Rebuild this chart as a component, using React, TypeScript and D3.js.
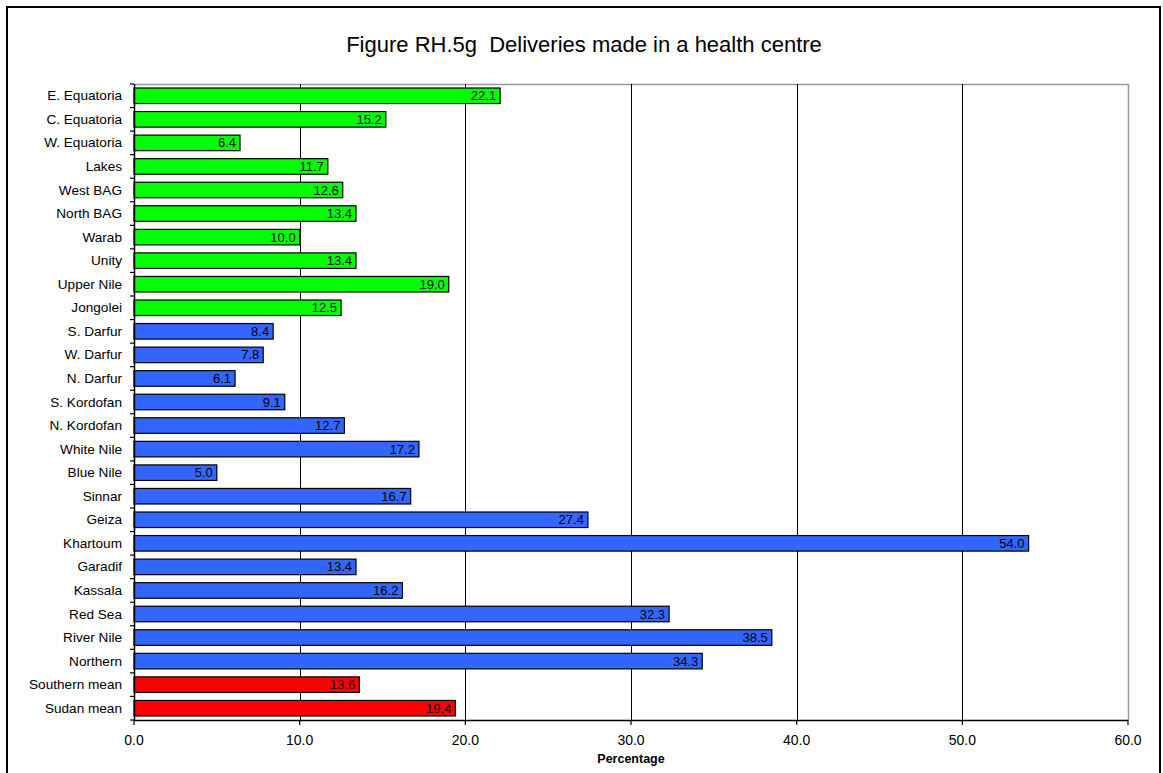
import React from "react";
import * as d3 from "d3";

const categories = [
  "E. Equatoria", "C. Equatoria", "W. Equatoria", "Lakes", "West BAG", "North BAG", "Warab", "Unity",
  "Upper Nile", "Jongolei", "S. Darfur", "W. Darfur", "N. Darfur", "S. Kordofan", "N. Kordofan",
  "White Nile", "Blue Nile", "Sinnar", "Geiza", "Khartoum", "Garadif", "Kassala", "Red Sea",
  "River Nile", "Northern", "Southern mean", "Sudan mean",
];
const values = [
  22.1, 15.2, 6.4, 11.7, 12.6, 13.4, 10.0, 13.4, 19.0, 12.5, 8.4, 7.8, 6.1, 9.1, 12.7,
  17.2, 5.0, 16.7, 27.4, 54.0, 13.4, 16.2, 32.3, 38.5, 34.3, 13.6, 19.4,
];
const groups = [
  "south", "south", "south", "south", "south", "south", "south", "south", "south", "south",
  "north", "north", "north", "north", "north", "north", "north", "north", "north", "north",
  "north", "north", "north", "north", "north", "mean", "mean",
];
const xTicks = [0, 10, 20, 30, 40, 50, 60];
const title = "Figure RH.5g  Deliveries made in a health centre";
const xLabel = "Percentage";

const colorOf: Record<string, string> = { south: "#00FF00", north: "#3366FF", mean: "#FF0000" };

export default function App() {
  const W = 1163, H = 773;
  const left = 134, right = 1128, top = 84, bottom = 720;
  const x = d3.scaleLinear().domain([0, 60]).range([left, right]);
  const y = d3.scaleBand<number>().domain(d3.range(categories.length)).range([top, bottom]).paddingInner(0.34).paddingOuter(0.17);
  const step = (bottom - top) / categories.length;
  const font = "Arial, 'Liberation Sans', sans-serif";
  return (
    <svg width={W} height={H} style={{ position: "absolute", left: 0, top: 0, background: "#fff" }} fontFamily={font}>
      <rect x={7} y={7} width={1153} height={800} fill="#fff" stroke="#000" strokeWidth={2} />
      <text x={584} y={52} textAnchor="middle" fontSize={22} style={{ whiteSpace: "pre" }}>{title}</text>
      {/* plot border */}
      <line x1={left} x2={right} y1={top + 0.5} y2={top + 0.5} stroke="#999" strokeWidth={1.5} />
      <line x1={right + 0.5} x2={right + 0.5} y1={top} y2={bottom} stroke="#999" strokeWidth={1.5} />
      {/* gridlines */}
      {xTicks.slice(1, -1).map((t) => (
        <line key={t} x1={Math.round(x(t)) + 0.5} x2={Math.round(x(t)) + 0.5} y1={top} y2={bottom} stroke="#000" strokeWidth={1} />
      ))}
      {/* bars */}
      {values.map((v, i) => (
        <g key={i}>
          <rect x={x(0)} y={y(i)} width={x(v) - x(0)} height={y.bandwidth()} fill={colorOf[groups[i]]} stroke="#000" strokeWidth={1.2} />
          <text x={x(v) - 4} y={y(i)! + y.bandwidth() / 2 + 4.5} textAnchor="end" fontSize={13} fill="#000">{v.toFixed(1)}</text>
        </g>
      ))}
      {/* y axis */}
      <line x1={left + 0.5} x2={left + 0.5} y1={top} y2={bottom} stroke="#000" strokeWidth={1.5} />
      {d3.range(categories.length + 1).map((i) => (
        <line key={i} x1={left - 4} x2={left} y1={top + i * step} y2={top + i * step} stroke="#000" strokeWidth={1.2} />
      ))}
      {categories.map((c, i) => (
        <text key={c} x={122} y={y(i)! + y.bandwidth() / 2 + 4.5} textAnchor="end" fontSize={13.6}>{c}</text>
      ))}
      {/* x axis */}
      <line x1={left} x2={right} y1={bottom + 0.5} y2={bottom + 0.5} stroke="#000" strokeWidth={1.5} />
      {xTicks.map((t) => (
        <g key={t}>
          <line x1={x(t)} x2={x(t)} y1={bottom} y2={bottom + 5} stroke="#000" strokeWidth={1.2} />
          <text x={x(t)} y={bottom + 25} textAnchor="middle" fontSize={14}>{t.toFixed(1)}</text>
        </g>
      ))}
      <text x={(left + right) / 2} y={763} textAnchor="middle" fontSize={12.5} fontWeight="bold">{xLabel}</text>
    </svg>
  );
}
